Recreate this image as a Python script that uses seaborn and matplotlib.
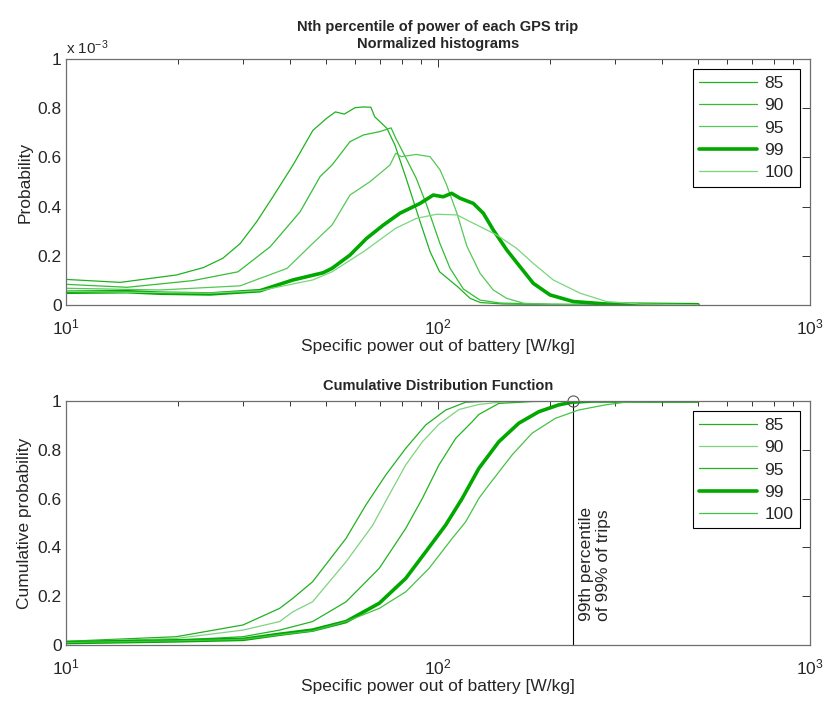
import matplotlib
matplotlib.use("Agg")
import matplotlib.pyplot as plt
import seaborn as sns
import numpy as np
import pandas as pd
from matplotlib.ticker import LogLocator, FixedLocator, NullFormatter

# ---------------- data ----------------
percentiles = ["85", "90", "95", "99", "100"]

# Top: normalized histograms, probability in units of 1e-3
hist_85_x = [10, 14, 19.8, 23.4, 26.4, 29.4, 32.6, 36, 40.8, 46.1, 50.3, 53, 56, 59.8, 63, 66,
             67.6, 72.9, 76.6, 82.1, 89.5, 95.2, 101, 113, 122, 130, 150, 200, 300, 500]
hist_85_y = [0.104, 0.092, 0.122, 0.152, 0.19, 0.25, 0.34, 0.44, 0.57, 0.71, 0.76, 0.785, 0.776, 0.802, 0.805, 0.804,
             0.765, 0.718, 0.65, 0.515, 0.339, 0.217, 0.135, 0.074, 0.027, 0.01, 0.004, 0.002, 0.001, 0.0]

hist_90_x = [10, 14.6, 21.9, 29.0, 35.4, 42.6, 48.2, 51.9, 58, 63, 69.8, 74.8, 77, 82.1, 87.4, 93.2,
             101.2, 107.7, 117, 129.7, 146.8, 200, 371, 500]
hist_90_y = [0.084, 0.072, 0.099, 0.135, 0.237, 0.379, 0.522, 0.569, 0.664, 0.691, 0.705, 0.72, 0.678, 0.596, 0.515, 0.407,
             0.25, 0.15, 0.065, 0.02, 0.008, 0.003, 0.001, 0.0]

hist_95_x = [10, 17.9, 29.4, 33.2, 39.3, 46.1, 51.9, 58, 65.6, 74.3, 77, 79.6, 87.4, 95.2, 101.2, 105.5,
             112.6, 119.5, 129.7, 140.8, 153, 170, 200, 300, 500]
hist_95_y = [0.068, 0.061, 0.078, 0.108, 0.149, 0.251, 0.325, 0.447, 0.501, 0.569, 0.617, 0.603, 0.612, 0.603, 0.55, 0.488,
             0.37, 0.24, 0.129, 0.061, 0.027, 0.007, 0.003, 0.001, 0.0]

hist_99_x = [10, 14.6, 17.9, 24.4, 33.2, 40.8, 49.1, 51.9, 58, 64.3, 71.3, 79, 89.5, 97.1, 103.3, 108.8,
             114.6, 124.4, 132.4, 140.8, 153, 166.1, 180.4, 200, 231, 284, 349, 500]
hist_99_y = [0.052, 0.054, 0.048, 0.045, 0.058, 0.102, 0.131, 0.149, 0.203, 0.271, 0.325, 0.373, 0.413, 0.447, 0.44, 0.454,
             0.434, 0.413, 0.373, 0.305, 0.224, 0.156, 0.088, 0.041, 0.014, 0.004, 0.003, 0.001]

hist_100_x = [10, 24.4, 33.2, 46.1, 51.9, 63.1, 77, 87.4, 99.2, 112.6, 121.9, 143.8, 162.8, 180.4, 204,
              241, 284, 349, 500]
hist_100_y = [0.055, 0.048, 0.058, 0.102, 0.135, 0.217, 0.312, 0.352, 0.369, 0.366, 0.339, 0.285, 0.23, 0.169, 0.102,
              0.048, 0.014, 0.004, 0.001]

# Bottom: cumulative distribution
cdf_85_x = [10, 19.8, 29.9, 37.5, 40.7, 46, 56.6, 64, 72.4, 81.9, 92.7, 104.9, 118.7, 140, 500]
cdf_85_y = [0.015, 0.034, 0.082, 0.15, 0.191, 0.259, 0.437, 0.574, 0.697, 0.806, 0.902, 0.963, 0.995, 1.0, 1.0]

cdf_90_x = [10, 19.8, 29.9, 37.5, 40.7, 46, 56.6, 66.7, 73.9, 81.9, 90.8, 100.6, 113.8, 128.8, 150, 200, 500]
cdf_90_y = [0.013, 0.027, 0.061, 0.096, 0.136, 0.177, 0.341, 0.49, 0.615, 0.738, 0.833, 0.905, 0.965, 0.986, 0.997, 1.0, 1.0]

cdf_95_x = [10, 19.8, 29.9, 37.5, 46, 56.6, 69.5, 81.9, 90.8, 100.6, 111.6, 123.6, 128.8, 145.7, 180, 250, 500]
cdf_95_y = [0.011, 0.02, 0.034, 0.061, 0.096, 0.177, 0.314, 0.478, 0.601, 0.738, 0.847, 0.915, 0.945, 0.99, 0.998, 1.0, 1.0]

cdf_99_x = [10, 19.8, 29.9, 37.5, 46, 56.6, 69.5, 81.9, 92.7, 104.9, 116.2, 128.8, 145.7, 164.9, 186.6, 211, 229, 260, 500]
cdf_99_y = [0.01, 0.017, 0.023, 0.044, 0.061, 0.096, 0.171, 0.273, 0.382, 0.492, 0.601, 0.724, 0.833, 0.909, 0.956, 0.984,
            0.995, 1.0, 1.0]

cdf_100_x = [10, 19.8, 29.9, 37.5, 46, 56.6, 69.5, 81.9, 94.6, 109.2, 118.7, 128.8, 137, 158.2, 179, 206.8, 238.8, 281.6,
             318.6, 400, 500]
cdf_100_y = [0.01, 0.017, 0.023, 0.042, 0.058, 0.096, 0.15, 0.218, 0.314, 0.437, 0.505, 0.601, 0.656, 0.779, 0.868, 0.929,
             0.963, 0.984, 0.995, 1.0, 1.0]

marker_x = [230]
marker_y = [1.0]
annotation = "99th percentile\nof 99% of trips"

# ---------------- styling ----------------
sns.set_theme(style="white")
plt.rcParams["font.family"] = ["Liberation Sans", "DejaVu Sans"]
plt.rcParams["mathtext.fontset"] = "custom"
plt.rcParams["mathtext.rm"] = "Liberation Sans"
plt.rcParams["mathtext.it"] = "Liberation Sans:italic"
plt.rcParams["mathtext.bf"] = "Liberation Sans:bold"

FS = 12.5
TFS = 10.5
top_colors = ["#1fb21f", "#34bd34", "#55c855", "#00a800", "#7ad67a"]
bot_colors = ["#22b022", "#7fd37f", "#22b422", "#00a800", "#45c245"]
widths = [0.9, 0.9, 0.9, 2.6, 0.9]

fig = plt.figure(figsize=(8.25, 7.02), dpi=100)
ax1 = fig.add_axes([66 / 825, 1 - 305 / 702, 744 / 825, 246 / 702])
ax2 = fig.add_axes([66 / 825, 1 - 645 / 702, 744 / 825, 244 / 702])

hist_sets = [(hist_85_x, hist_85_y), (hist_90_x, hist_90_y), (hist_95_x, hist_95_y),
             (hist_99_x, hist_99_y), (hist_100_x, hist_100_y)]
cdf_sets = [(cdf_85_x, cdf_85_y), (cdf_90_x, cdf_90_y), (cdf_95_x, cdf_95_y),
            (cdf_99_x, cdf_99_y), (cdf_100_x, cdf_100_y)]

for (xs, ys), lab, c, w in zip(hist_sets, percentiles, top_colors, widths):
    df = pd.DataFrame({"x": xs, "y": ys})
    sns.lineplot(data=df, x="x", y="y", ax=ax1, color=c, lw=w, label=lab, estimator=None, sort=False)

for (xs, ys), lab, c, w in zip(cdf_sets, percentiles, bot_colors, widths):
    df = pd.DataFrame({"x": xs, "y": ys})
    sns.lineplot(data=df, x="x", y="y", ax=ax2, color=c, lw=w, label=lab, estimator=None, sort=False)

ax2.plot([marker_x[0], marker_x[0]], [0, marker_y[0]], color="black", lw=0.8, zorder=1)
ax2.plot(marker_x, marker_y, marker="o", mfc="none", mec="#555555", ms=8, mew=0.8, ls="none", clip_on=False)
ax2.text(240, 0.10, annotation, rotation=90, ha="left", va="bottom", fontsize=FS, multialignment="left",
         linespacing=1.1)

for ax in (ax1, ax2):
    ax.set_xscale("log")
    ax.set_xlim(10, 1000)
    ax.set_ylim(0, 1)
    ax.xaxis.set_major_locator(FixedLocator([10, 100, 1000]))
    ax.xaxis.set_minor_locator(LogLocator(base=10, subs=np.arange(2, 10)))
    ax.xaxis.set_minor_formatter(NullFormatter())
    ax.set_yticks([0, 0.2, 0.4, 0.6, 0.8, 1.0])
    ax.set_yticklabels(["0", "0.2", "0.4", "0.6", "0.8", "1"])
    ax.tick_params(which="both", direction="in", top=True, right=True, labelsize=FS,
                   color="#333333", width=0.7, pad=3)
    ax.tick_params(which="major", length=6)
    ax.tick_params(which="minor", length=3.5)
    ax.tick_params(axis="x", which="major", pad=9)
    for s in ax.spines.values():
        s.set_color("#6e6e6e")
        s.set_linewidth(0.9)
    ax.set_xlabel("Specific power out of battery [W/kg]", fontsize=FS, labelpad=1)
    leg = ax.legend(loc="upper right", fontsize=FS, frameon=True, fancybox=False, framealpha=1,
                    edgecolor="black", handlelength=3.3, handletextpad=0.45, borderpad=0.35,
                    labelspacing=0.42, borderaxespad=0.6)
    leg.get_frame().set_linewidth(0.8)

ax1.set_ylabel("Probability", fontsize=FS, labelpad=4)
ax2.set_ylabel("Cumulative probability", fontsize=FS, labelpad=4)
ax1.text(0, 1.008, r"x 10$^{-3}$", transform=ax1.transAxes, ha="left", va="bottom", fontsize=TFS + 0.5)
ax1.set_title("Nth percentile of power of each GPS trip\nNormalized histograms", fontsize=TFS,
              fontweight="bold", pad=8, linespacing=1.3)
ax2.set_title("Cumulative Distribution Function", fontsize=TFS, fontweight="bold", pad=8)

fig.savefig("out.png", dpi=100)
